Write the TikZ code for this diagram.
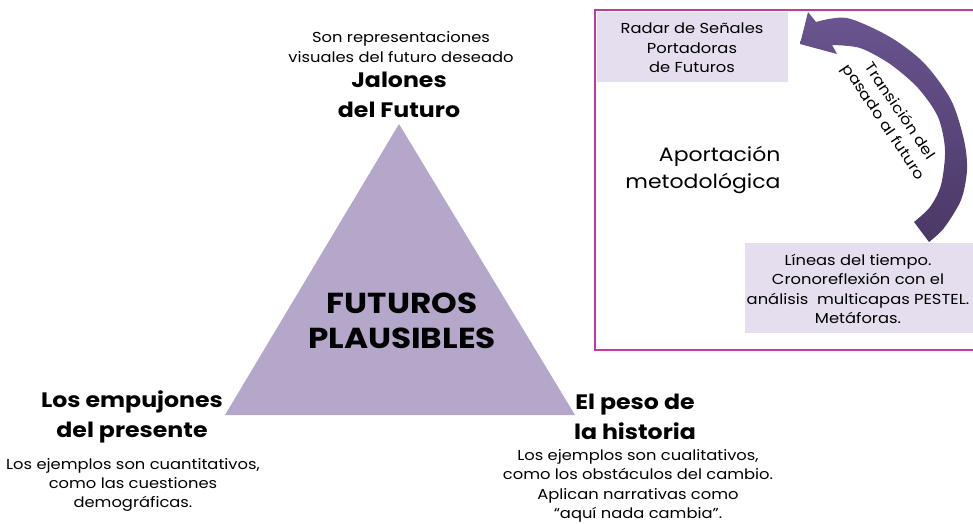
\documentclass[tikz,border=0pt]{standalone}
\usepackage{fontspec}
\setmainfont[FakeStretch=1.13]{Poppins}
\usepackage{xcolor}
\usepackage{tikz}
\definecolor{trifill}{HTML}{B4A7CA}
\definecolor{boxfill}{HTML}{E4DEEE}
\definecolor{framecol}{HTML}{C13AA0}
\definecolor{arrowtop}{HTML}{6A5590}
\definecolor{arrowbot}{HTML}{4A3866}

\begin{document}
\begin{tikzpicture}[x=1bp, y=-1bp,
    small/.style={align=center, font=\fontsize{14.5}{19.5}\selectfont},
    big/.style={align=center, font=\fontsize{21}{30}\selectfont\bfseries},
    box/.style={fill=boxfill, inner sep=0pt}]
    \useasboundingbox (0,0) rectangle (973,524);

    % triangle
    \coordinate (top) at (399,124);
    \coordinate (left) at (225,415);
    \coordinate (right) at (575,415);
    \fill[trifill] (top) -- (left) -- (right) -- cycle;
    \node[align=center, font=\fontsize{29}{35}\selectfont\bfseries] (plaus) at (402,321) {FUTUROS\\PLAUSIBLES};

    \node[small] (sonrep) at (401,47) {Son representaciones\\visuales del futuro deseado};
    \node[big] (jalones) at (399,95) {Jalones\\del Futuro};

    \node[big] (empuj) at (132,417) {Los empujones\\del presente};
    \node[small] (cuanti) at (133,485) {Los ejemplos son cuantitativos,\\como las cuestiones\\demográficas.};

    \node[big] (peso) at (635,417) {El peso de\\la historia};
    \node[small] (cuali) at (638,486) {Los ejemplos son cualitativos,\\como los obstáculos del cambio.\\Aplican narrativas como\\“aquí nada cambia”.};

    % right panel
    \draw[framecol, line width=2bp] (980,10) -- (595,10) -- (595,350) -- (980,350);
    \node[box, minimum width=191bp, minimum height=70bp] (radar) at (692.5,47) {};
    \node[small] (radartxt) at (692,48) {Radar de Señales\\Portadoras\\de Futuros};
    \node[box, minimum width=230bp, minimum height=90bp] (lineas) at (860,288) {};
    \node[small] (lineastxt) at (858,289) {Líneas del tiempo.\\Cronoreflexión con el\\análisis\ \ multicapas PESTEL.\\Metáforas.};
    \node[align=right, anchor=east, font=\fontsize{19.5}{27}\selectfont] (aport) at (784,170) {Aportación\\metodológica};

    % curved arrow
    \shade[top color=arrowtop, bottom color=arrowbot]
        (800,44) -- (808,12)
        -- plot[smooth] coordinates {(816,22) (847,18) (890,37) (924,63) (951,100) (964,140) (967,170) (961,200) (944,228) (929,242)}
        -- plot[smooth] coordinates {(914,222) (930,207) (941,185) (945,150) (938,117) (918,88) (890,64) (860,48) (832,45)}
        -- (837,54) -- cycle;
    %\node[small, rotate=-56] (trans) at (893,116) {Transición del\\pasado al futuro};
    \node[small, rotate=-56] (trans) at (891,117) {Transición del\\pasado al futuro};
\end{tikzpicture}
\end{document}
